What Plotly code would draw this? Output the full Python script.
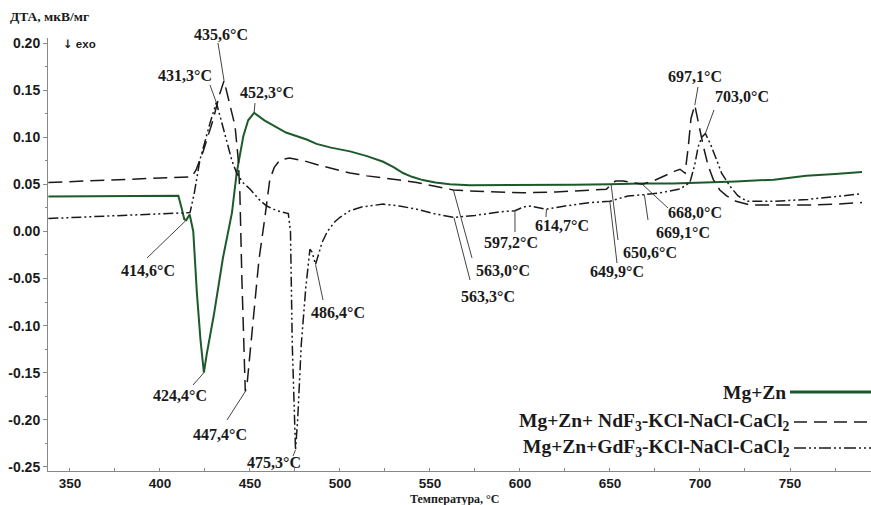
import numpy as np
import plotly.graph_objects as go

# ---------------- data ----------------
t_mgzn = [338, 360, 380, 400, 410.2, 412, 413.5, 414.6, 416.5, 418.5, 420.5, 422.5, 424.4,
          426, 430, 435, 440, 442.6, 446.3, 449, 452.3, 458, 464.8, 470, 481.5, 487, 495,
          505.6, 515, 524, 530, 535, 540, 546, 553, 561, 572, 590, 610, 630, 650, 667,
          685, 704, 720, 741, 759, 775, 790]
v_mgzn = [0.037, 0.0373, 0.0376, 0.0378, 0.038, 0.025, 0.013, 0.012, 0.018, 0.0, -0.065,
          -0.115, -0.150, -0.13, -0.088, -0.028, 0.02, 0.062, 0.101, 0.118, 0.126, 0.118,
          0.111, 0.105, 0.0976, 0.093, 0.089, 0.085, 0.080, 0.074, 0.068, 0.062, 0.058,
          0.0545, 0.052, 0.050, 0.049, 0.049, 0.049, 0.0495, 0.050, 0.051, 0.051, 0.052,
          0.053, 0.055, 0.059, 0.061, 0.063]

t_nd = [338, 380, 410, 417.6, 420, 424, 429.6, 433, 435.6, 438, 441.7, 443.5, 444.4, 445.5,
        446.5, 447.4, 448.5, 450, 453, 455, 458.3, 461, 463.5, 466.7, 472, 480, 487, 495,
        505.6, 515, 524, 533, 542.6, 552, 563, 572, 585, 601.8, 620, 640, 648, 650.6, 653,
        657.4, 662, 668, 673.9, 681.5, 686, 688.9, 691.7, 693.5, 695, 697.1, 699, 701.9,
        704.5, 707.4, 711, 714.8, 720, 727.8, 740, 759, 775, 790]
v_nd = [0.052, 0.055, 0.057, 0.058, 0.065, 0.085, 0.119, 0.145, 0.160, 0.140, 0.112, 0.076,
        0.040, -0.05, -0.13, -0.170, -0.16, -0.13, -0.07, -0.03, 0.015, 0.055, 0.068, 0.076,
        0.078, 0.075, 0.071, 0.067, 0.062, 0.059, 0.057, 0.0545, 0.052, 0.048, 0.044,
        0.043, 0.042, 0.041, 0.042, 0.0435, 0.0447, 0.050, 0.0535, 0.0535, 0.052, 0.050,
        0.0535, 0.0605, 0.064, 0.066, 0.062, 0.09, 0.12, 0.134, 0.115, 0.090, 0.070,
        0.055, 0.044, 0.0377, 0.032, 0.028, 0.028, 0.028, 0.029, 0.0306]

t_gd = [338, 380, 414, 416.7, 419, 422.2, 427.8, 431.3, 434, 437, 440, 442.6, 446, 450,
        455, 459.3, 465, 471.3, 472.5, 473.5, 474.5, 475.3, 476.5, 478.5, 481, 483.3,
        484.5, 486.4, 488, 490, 493, 497, 500, 505.6, 512, 524, 533, 542.6, 552, 563.3,
        575, 590, 597.2, 602, 605.6, 610, 614.7, 625, 638.9, 649.9, 655, 660, 669.1,
        677.8, 688.9, 694.4, 697, 699, 701, 703.0, 706, 709, 712, 716.7, 721, 726,
        740.7, 760, 775, 790]
v_gd = [0.0137, 0.017, 0.019, 0.020, 0.04, 0.076, 0.115, 0.137, 0.118, 0.095, 0.075,
        0.062, 0.052, 0.045, 0.034, 0.027, 0.022, 0.019, 0.0, -0.12, -0.2, -0.232, -0.2,
        -0.12, -0.06, -0.019, -0.022, -0.035, -0.025, -0.012, 0.0, 0.01, 0.015, 0.022,
        0.026, 0.029, 0.027, 0.0236, 0.019, 0.0148, 0.017, 0.021, 0.022, 0.026, 0.027,
        0.025, 0.0236, 0.027, 0.0306, 0.032, 0.035, 0.0377, 0.039, 0.041, 0.045, 0.052,
        0.07, 0.090, 0.100, 0.104, 0.092, 0.076, 0.062, 0.048, 0.038, 0.032, 0.032,
        0.034, 0.037, 0.040]

series_names = ["Mg+Zn",
                "Mg+Zn+ NdF<sub>3</sub>-KCl-NaCl-CaCl<sub>2</sub>",
                "Mg+Zn+GdF<sub>3</sub>-KCl-NaCl-CaCl<sub>2</sub>"]

y_tick_vals = [0.20, 0.15, 0.10, 0.05, 0.00, -0.05, -0.10, -0.15, -0.20, -0.25]
x_tick_vals = [350, 400, 450, 500, 550, 600, 650, 700, 750]

# peak labels: (temperature, series index)
peak_temps = [435.6, 431.3, 452.3, 414.6, 424.4, 447.4, 475.3, 486.4, 563.0, 563.3,
              597.2, 614.7, 650.6, 649.9, 668.0, 669.1, 697.1, 703.0]
peak_series = [1, 2, 0, 0, 0, 1, 2, 2, 1, 2, 2, 2, 1, 2, 1, 2, 1, 2]

# ---------------- styling / layout ----------------
GREEN = "#1d5a2b"
DARK = "#1a1a1a"
SERIF = "Liberation Serif"
SANS = "Liberation Sans"

x_range = [337.8, 795.0]
y_range = [-0.2544, 0.2054]
L, T, B = 48, 38, 34
W, H = 871, 505
pw, ph = W - L, H - T - B


def px_to_data(px, py):
    return (x_range[0] + (px - L) / pw * (x_range[1] - x_range[0]),
            y_range[1] - (py - T) / ph * (y_range[1] - y_range[0]))


def px_to_paper(px, py):
    return (px - L) / pw, (H - B - py) / ph


# label centre positions (pixel) and leader start positions (pixel)
label_pos_px = [(221, 35), (185, 75), (267, 92), (148, 270), (180, 395), (220, 434),
                (274, 462), (338, 312), (503, 270), (488, 296), (511, 242), (562, 225),
                (650, 252), (617, 271), (695, 213), (683, 232), (695, 76), (742, 97)]
leader_start_px = [(218, 43), (210, 85), (255, 103), (147, 258), (193, 385), (227, 420),
                   (293, 456), (323, 300), (472, 258), (470, 280), (515, 232), (546, 217),
                   (618, 240), (617, 263), (668, 208), (648, 220), (698, 87), (714, 110)]

fig = go.Figure()
styles = [dict(color=GREEN, width=2, dash="solid"),
          dict(color=DARK, width=1.5, dash="14px,7px"),
          dict(color=DARK, width=1.5, dash="10px,3px,2px,3px,2px,3px")]
all_t = [t_mgzn, t_nd, t_gd]
all_v = [v_mgzn, v_nd, v_gd]
for t, v, st, nm in zip(all_t, all_v, styles, series_names):
    fig.add_trace(go.Scatter(x=t, y=v, mode="lines", line=st, name=nm,
                             showlegend=False, hoverinfo="skip"))

annotations = []
shapes = []
for temp, si, lp, ls in zip(peak_temps, peak_series, label_pos_px, leader_start_px):
    yv = float(np.interp(temp, all_t[si], all_v[si]))
    lx, ly = px_to_paper(*lp)
    sx, sy = px_to_data(*ls)
    label = f"{temp:.1f}".replace(".", ",") + "°C"
    annotations.append(dict(x=lx, y=ly, xref="paper", yref="paper", text=label,
                            showarrow=False, xanchor="center", yanchor="middle",
                            font=dict(family=SERIF, size=16, color=DARK, weight="bold")))
    shapes.append(dict(type="line", xref="x", yref="y", x0=sx, y0=sy, x1=temp, y1=yv,
                       line=dict(color="#444", width=1)))

# legend (right-aligned text + sample line to the right)
leg_rows = [(788, 790, 392), (792, 794, 422), (792, 794, 448)]
leg_styles = [dict(color=GREEN, width=3),
              dict(color=DARK, width=1.6, dash="13px,7px"),
              dict(color=DARK, width=1.6, dash="12px,3px,2px,3px,2px,3px")]
for nm, (tx, lx0, yy), st in zip(series_names, leg_rows, leg_styles):
    px_, py_ = px_to_paper(tx, yy)
    annotations.append(dict(x=px_, y=py_, xref="paper", yref="paper",
                            xanchor="right", yanchor="middle", text=nm, showarrow=False,
                            font=dict(family=SERIF, size=19.5, color=DARK, weight="bold")))
    shapes.append(dict(type="line", xref="paper", yref="paper", x0=(lx0 - L) / pw, x1=1.0,
                       y0=py_, y1=py_, line=st))

ax_, ay_ = px_to_paper(8, 17)
annotations.append(dict(x=ax_, y=ay_, xref="paper", yref="paper",
                        xanchor="left", yanchor="middle", text="ДТА, мкВ/мг", showarrow=False,
                        font=dict(family=SERIF, size=13.5, color=DARK, weight="bold")))
ax_, ay_ = px_to_paper(61, 44)
annotations.append(dict(x=ax_, y=ay_, xref="paper", yref="paper",
                        xanchor="left", yanchor="middle",
                        text="<span style='font-family:DejaVu Sans'>↓</span> exo",
                        showarrow=False,
                        font=dict(family=SANS, size=11.5, color=DARK, weight="bold")))
ax_, ay_ = px_to_paper(455, 499)
annotations.append(dict(x=ax_, y=ay_, xref="paper", yref="paper",
                        xanchor="center", yanchor="middle", text="Температура, °C",
                        showarrow=False,
                        font=dict(family=SERIF, size=12, color=DARK, weight="bold")))

fig.update_layout(
    width=W, height=H,
    margin=dict(l=L, r=0, t=T, b=B),
    paper_bgcolor="white", plot_bgcolor="white",
    showlegend=False,
    annotations=annotations,
    shapes=shapes,
    xaxis=dict(range=x_range, showgrid=False, zeroline=False, showline=True,
               linecolor="#888", linewidth=1, ticks="inside", ticklen=3, tickcolor="#888",
               tickvals=x_tick_vals, ticktext=[str(v) for v in x_tick_vals],
               tickfont=dict(family=SANS, size=13.5, color=DARK, weight="bold"),
               minor=dict(dtick=25, tick0=0, ticks="inside", ticklen=3, tickcolor="#888")),
    yaxis=dict(range=y_range, showgrid=False, zeroline=False, showline=True,
               linecolor="#888", linewidth=1, ticks="outside", ticklen=4, tickcolor="#888",
               tickvals=y_tick_vals, ticktext=[f"{v:.2f}" for v in y_tick_vals],
               tickfont=dict(family=SANS, size=14, color=DARK, weight="bold"),
               minor=dict(dtick=0.025, tick0=0, ticks="outside", ticklen=2, tickcolor="#888")),
)

fig.write_html("out.html")
